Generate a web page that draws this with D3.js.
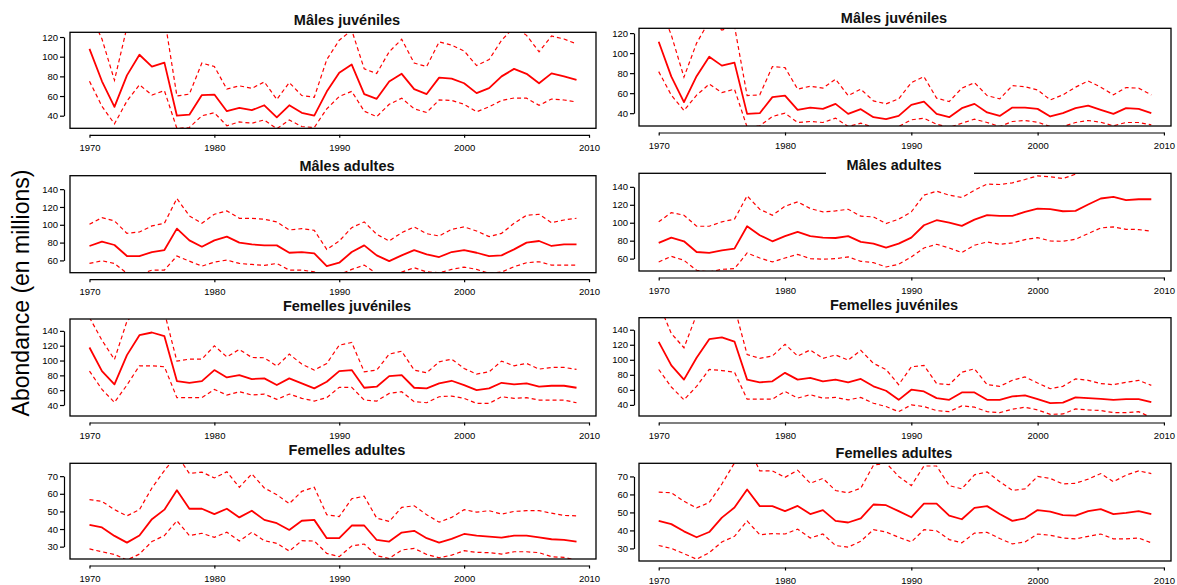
<!DOCTYPE html>
<html lang="fr">
  <head>
    <meta charset="UTF-8" />
    <script src="https://d3js.org/d3.v7.min.js"></script>
    <style>
      body { margin: 0; background: #fff; }
      svg { font-family: "Liberation Sans", Arial, sans-serif; }
    </style>
    <title>Abondance</title>
  </head>
  <body>
    <div id="chart"></div>
    <script>
      // years 1970-2009
      var years = [1970,1971,1972,1973,1974,1975,1976,1977,1978,1979,1980,1981,1982,1983,1984,1985,1986,1987,1988,1989,
                   1990,1991,1992,1993,1994,1995,1996,1997,1998,1999,2000,2001,2002,2003,2004,2005,2006,2007,2008,2009];
      var xTicks = [1970, 1980, 1990, 2000, 2010];

      // Mâles juvéniles (gauche / droite)
      var mjA_est = [108,75,49,81,102,90,94,40,41,61,61.5,44.6,48,45.6,50.6,38.3,50.6,43,40,64.5,83.6,92,62,57.2,74.7,82.6,67,62,78.7,77.7,73,63,68,80,87.6,82.6,73,83,80,76.4];
      var mjA_hi  = [145,118,76,130,150,150,140,60,62,93.5,90,67,70.4,67.8,74.4,56.5,73.7,60.5,58.8,97,116.7,127,87.6,83,105,117.7,93.5,90,115,111.7,105.8,91,97,116.7,130,121.7,105,121,118,113];
      var mjA_lo  = [75,49.6,31.7,54.9,71.4,61,65.5,27,28,40,43,29.8,33.7,32.4,35.7,26.8,35.7,29,28,47,59.5,64.8,44.6,39,51.6,57.8,47,43.3,56,55.5,51.6,44,49,55.5,58,57.8,50.6,57,56,54];
      var mjB_est = [111.4,76.5,51,77,96.4,87.5,90.5,39.3,40,56,57.6,43.3,45.6,44.3,49.3,39.3,44,36,34,37.3,48.3,51.6,39.3,36,45,49.3,40.7,37.3,45.6,45.6,44.3,36.7,40,45,47.6,43.3,39.3,45,44.3,40];
      var mjB_hi  = [150,118,76,110,132,123,127,57.6,58.3,86.5,85.5,64,67,65,74,57.6,64,52.3,49.3,54.3,70.5,76.5,55,51.6,65,70.5,57.6,54.3,67.5,66.5,63.2,53.3,58.3,66,72.2,66,58.3,65.6,65,58.3];
      var mjB_lo  = [81.5,58,42.7,58,69,60.6,64,26,27.4,36.7,40,30.7,31.7,30.7,35,26.7,30,26,25,26.7,33.4,35,29,25.7,30,34,30.7,26.7,31.7,32.7,31,26.7,26.7,30.7,32.7,31,27.4,30.7,30.7,28.4];

      // Mâles adultes
      var maA_est = [76.2,81,77.3,64.9,64.9,69.4,71.6,95.7,82.5,75.4,82.5,86.7,80,78,76.9,76.9,68.6,69.4,67.9,53.6,57.4,69.4,76.9,65.6,59.2,65.6,71.6,66.8,63.8,69.4,71.6,68.6,64.9,65.6,72.4,80,81.8,76.2,78,78];
      var maA_hi  = [100.6,108,104.3,90.4,91.9,98.7,101.7,129.5,110,101.7,111.8,115.6,107.3,107.3,106.2,103.2,94.2,95.7,93.8,72.4,81.8,96.8,103.2,89.3,81.8,91.2,97.6,90,87.4,94.9,97.6,93,86.7,90.4,101.7,110.7,111.8,102.4,105.4,107.3];
      var maA_lo  = [56.6,59.6,56.6,45.4,44.2,49.1,49.1,64.9,59.2,53.6,58.1,60.4,56.6,55.5,54.4,56.6,49.1,49.1,47.2,40,44,49.9,54.7,45,41.6,46.9,51.7,47.2,46.1,49.9,52.5,49.9,45.4,46.9,52.9,57.4,58.5,54.7,54.7,54.7];
      var maB_est = [77.5,83.4,79.3,67.4,66.3,69.3,71.2,96.1,86,79.3,85,89.8,85,83.4,83,85,78.6,76.7,72.3,76.7,83.4,97.2,102.8,100.2,96.5,103.5,108.4,107.6,107.6,112.1,115.8,115.1,112.8,113.2,120.3,127,128.8,125.1,126.2,126.2];
      var maB_hi  = [101,111.3,108.4,96.1,96.1,101,104,130,115,108.4,118.4,123.3,115.8,112.1,113.2,115,107.3,106.5,99.1,104,112.1,130.7,135.2,130.7,128.1,136.3,143,142.6,144.5,148.2,152.3,151.2,149.3,154.1,160,165,168,163,165,163];
      var maB_lo  = [56.3,62.6,58.1,47,45.1,48.1,48.8,66.3,60.7,56.3,60.7,64.8,60,59.3,60,61.9,57,55.5,50.7,53.7,61.9,71.9,76,71.9,66.7,74.9,78.6,76,77.5,81.2,83.4,79.7,79.3,81.6,87.9,94.2,95.3,92.7,92.4,90.5];

      // Femelles juvéniles
      var fjA_est = [117.6,85.7,67.8,107.3,134.2,137.8,132.8,72.3,70,72.3,87.1,77.2,80.4,75,75.9,66.9,75.9,69.1,62.4,71.4,85.7,87.1,63.3,64.7,79,80.4,63.3,62.4,69.1,72.7,66.9,60.2,62.4,70,67.8,69.1,64.7,66,66,63.3];
      var fjA_hi  = [158,127.4,101.4,153,170,170,165,99.2,101.9,101.9,119.8,105,114.9,104.1,103.7,92.5,108.6,95.2,87.1,96.1,120.7,124.3,84.8,87.1,108.6,112.6,87.1,83.5,98.3,101.9,89.3,81.7,84.8,99.2,92.9,96.1,88.4,90.7,90.7,88];
      var fjA_lo  = [85.7,61,43.6,66.9,92.9,92.9,91.6,49.9,49.9,49.9,61,53.5,57.9,53.5,54.8,47.6,54.8,49,45.4,49.9,63.8,63.8,46.7,45.4,55.7,57.9,44.5,43.1,51.2,52.1,49,42.2,42.2,51.2,49,49.9,46.7,46.7,46.7,43.1];
      var fjB_est = [123.9,92.5,73.6,102.8,127.4,129.7,124.3,73.6,70,71.4,82.6,73.6,75.9,71.4,73.6,70,74.5,64.7,58.8,46.7,60.2,57.9,49,46.7,56.6,56.6,46.7,46.7,51.2,52.6,47.6,42.2,43.1,49.9,49,48.1,46.7,47.6,47.6,43.6];
      var fjB_hi  = [175,135,116,160,170,170,170,107,101.9,105,120.7,105,113.1,101.9,106.4,99.6,112.6,95.2,87.1,66.9,90.7,92.5,68.3,66.9,83.5,88,66.9,64.7,72.7,77.2,69.1,61.5,64.7,74.5,72.7,68.3,66.9,70,72.7,66];
      var fjB_lo  = [87.1,63.8,46.7,64.7,87.1,85.7,83.5,47.6,47.6,47.6,57.9,49,53.5,49,49.9,46.7,49.9,42.2,37.8,31,40,37.8,32.4,31,38.7,36.9,31,29.7,34.2,36.9,33.3,27.4,27.9,34.6,33.3,32.4,29.7,29.7,31,23];

      // Femelles adultes
      var faA_est = [42.4,40.9,36.1,32.3,36.3,45.6,51,62,51.5,51.5,48.5,51.5,46.6,50.4,45.2,43.3,39.5,44.7,45.2,34.8,34.8,42,42,33.8,32.9,38,39,34.8,32.3,34.4,37.2,36.3,35.7,35.1,36.3,36.3,35.3,34.2,33.8,32.9];
      var faA_hi  = [56.7,55.7,51,47.5,51,63.3,73.2,82,71.5,72.3,69,72.5,63.7,71.3,63.3,59.5,54.4,61.4,63.7,48.1,47.1,57.2,58.6,46.2,44.3,52.3,53.2,48.1,43.9,46.6,51,49.6,50.4,48.5,50,50.4,50.4,49,47.7,47.5];
      var faA_lo  = [28.7,27.1,25.6,22.4,25.8,32.9,36.3,44.7,36.3,37.6,35.3,38.2,33.2,38.2,33.4,31.9,27.5,33.4,33.2,26.2,24.3,30.4,31.5,24.9,23.3,28.1,29,25.6,23.7,25.2,27.7,26.8,26.6,25.8,27.1,27.1,26.6,24.3,23.9,22.4];
      var faB_est = [45.3,43.5,39.5,36.2,39.1,47.1,52.7,62.7,53.5,53.5,50.7,53.6,49.1,51.3,45.3,44.4,46.7,54.4,54,50.7,47.3,54.9,54.9,48.2,46.2,52.5,53.5,49.1,45.3,46.7,51.3,50.4,48.5,48.2,50.7,51.8,49.1,49.8,50.7,49.1];
      var faB_hi  = [61.3,60.9,56.2,52.5,55.5,65.8,77.5,88,73.1,73.1,69.5,73.5,66.2,68.9,62.2,60.9,63.5,76.2,77.5,70,64.9,75.8,75.8,64.9,63.1,70.9,72.5,67.1,62.2,63.1,70,68.9,65.8,66.2,68.5,71.6,67.1,70.7,73.1,71.6];
      var faB_lo  = [31.6,30,27.1,24,27.6,33.6,36.7,45.3,37.6,38.2,38,40.7,35.8,38,31.6,30.7,34,40.4,39.1,36.2,33.6,40.4,39.8,34.9,33.1,38.5,38.9,35.5,32.5,33.6,38,37.3,35.8,35.3,36.7,38,35.3,35.3,35.8,33.1];

      var yTicksMJ = [40, 60, 80, 100, 120];
      var yTicksMA = [60, 80, 100, 120, 140];
      var yTicksFJ = [40, 60, 80, 100, 120, 140];
      var yTicksFA = [30, 40, 50, 60, 70];

      // layout
      var W = 1177, H = 585;
      var cols = [
        { left: 70, right: 596, axisX: 64, titleX: 347 },
        { left: 639, right: 1171, axisX: 634, titleX: 894 }
      ];

      var panels = [
        { title: "Mâles juvéniles", col: 0, top: 32.3, bottom: 128.3, titleY: 20, ydom: [27.2, 124.8], ticks: yTicksMJ, est: mjA_est, lo: mjA_lo, hi: mjA_hi },
        { title: "Mâles juvéniles", col: 1, top: 28.3, bottom: 126, titleY: 18.3, ydom: [27.2, 124.8], ticks: yTicksMJ, est: mjB_est, lo: mjB_lo, hi: mjB_hi },
        { title: "Mâles adultes", col: 0, top: 175.7, bottom: 272.7, titleY: 165.7, ydom: [46.2, 155.1], ticks: yTicksMA, est: maA_est, lo: maA_lo, hi: maA_hi },
        { title: "Mâles adultes", col: 1, top: 173.3, bottom: 271, titleY: 165, ydom: [46.2, 155.1], ticks: yTicksMA, est: maB_est, lo: maB_lo, hi: maB_hi, whiteTitle: true },
        { title: "Femelles juvéniles", col: 0, top: 319, bottom: 416, titleY: 306, ydom: [25.2, 156], ticks: yTicksFJ, est: fjA_est, lo: fjA_lo, hi: fjA_hi },
        { title: "Femelles juvéniles", col: 1, top: 317.7, bottom: 416, titleY: 305, ydom: [25.2, 156], ticks: yTicksFJ, est: fjB_est, lo: fjB_lo, hi: fjB_hi },
        { title: "Femelles adultes", col: 0, top: 463.3, bottom: 559, titleY: 450, ydom: [23, 77.3], ticks: yTicksFA, est: faA_est, lo: faA_lo, hi: faA_hi },
        { title: "Femelles adultes", col: 1, top: 463.3, bottom: 561, titleY: 453, ydom: [23, 77.3], ticks: yTicksFA, est: faB_est, lo: faB_lo, hi: faB_hi }
      ];

      var svg = d3.select("#chart").append("svg")
        .attr("width", W)
        .attr("height", H);

      svg.append("rect").attr("width", W).attr("height", H).attr("fill", "#fff");

      panels.forEach(function (p, i) {
        var c = cols[p.col];
        var x = d3.scaleLinear().domain([1968.44, 2010.56]).range([c.left, c.right]);
        var y = d3.scaleLinear().domain(p.ydom).range([p.bottom, p.top]);
        var g = svg.append("g").attr("class", "panel");

        // clip to plot box
        var clipId = "clip" + i;
        svg.append("clipPath").attr("id", clipId)
          .append("rect")
          .attr("x", c.left).attr("y", p.top)
          .attr("width", c.right - c.left).attr("height", p.bottom - p.top);

        var line = d3.line()
          .x(function (d, k) { return x(years[k]); })
          .y(function (d) { return y(d); });

        var lines = g.append("g").attr("clip-path", "url(#" + clipId + ")");
        lines.append("path").datum(p.hi).attr("d", line)
          .attr("fill", "none").attr("stroke", "#ff0000")
          .attr("stroke-width", 1.2).attr("stroke-dasharray", "4,3");
        lines.append("path").datum(p.lo).attr("d", line)
          .attr("fill", "none").attr("stroke", "#ff0000")
          .attr("stroke-width", 1.2).attr("stroke-dasharray", "4,3");
        lines.append("path").datum(p.est).attr("d", line)
          .attr("fill", "none").attr("stroke", "#ff0000")
          .attr("stroke-width", 1.8).attr("stroke-linejoin", "round");

        // box
        g.append("rect")
          .attr("x", c.left).attr("y", p.top)
          .attr("width", c.right - c.left).attr("height", p.bottom - p.top)
          .attr("fill", "none").attr("stroke", "#000").attr("stroke-width", 1.3);

        // y axis (line only between first and last tick, like R)
        var t0 = p.ticks[0], t1 = p.ticks[p.ticks.length - 1];
        var yAx = d3.scaleLinear().domain([t0, t1]).range([y(t0), y(t1)]);
        var gy = g.append("g")
          .attr("transform", "translate(" + c.axisX + ",0)")
          .call(d3.axisLeft(yAx).tickValues(p.ticks).tickSize(4).tickSizeOuter(0).tickPadding(2));

        // x axis
        var xAx = d3.scaleLinear().domain([1970, 2010]).range([x(1970), x(2010)]);
        var gx = g.append("g")
          .attr("transform", "translate(0," + (p.bottom + 6.5) + ")")
          .call(d3.axisBottom(xAx).tickValues(xTicks).tickFormat(d3.format("d")).tickSize(3).tickSizeOuter(0).tickPadding(6.5));

        [gx, gy].forEach(function (a) {
          a.selectAll("path, line").attr("stroke", "#000").attr("stroke-width", 1.2);
          a.selectAll("text")
            .attr("fill", "#000")
            .attr("font-size", 9.5)
            .attr("font-family", "'Liberation Sans', Arial, sans-serif");
        });

        // title
        if (p.whiteTitle) {
          g.append("rect")
            .attr("x", 826).attr("y", p.titleY - 12)
            .attr("width", 148).attr("height", p.top - p.titleY + 13)
            .attr("fill", "#fff");
        }
        g.append("text")
          .attr("x", c.titleX).attr("y", p.titleY)
          .attr("text-anchor", "middle")
          .attr("dominant-baseline", "central")
          .attr("font-size", 14.5)
          .attr("font-weight", "bold")
          .attr("fill", "#111")
          .text(p.title);
      });

      // y title
      svg.append("text")
        .attr("transform", "translate(21,293) rotate(-90)")
        .attr("text-anchor", "middle")
        .attr("dominant-baseline", "central")
        .attr("font-size", 23)
        .attr("fill", "#000")
        .text("Abondance (en millions)");
    </script>
  </body>
</html>
